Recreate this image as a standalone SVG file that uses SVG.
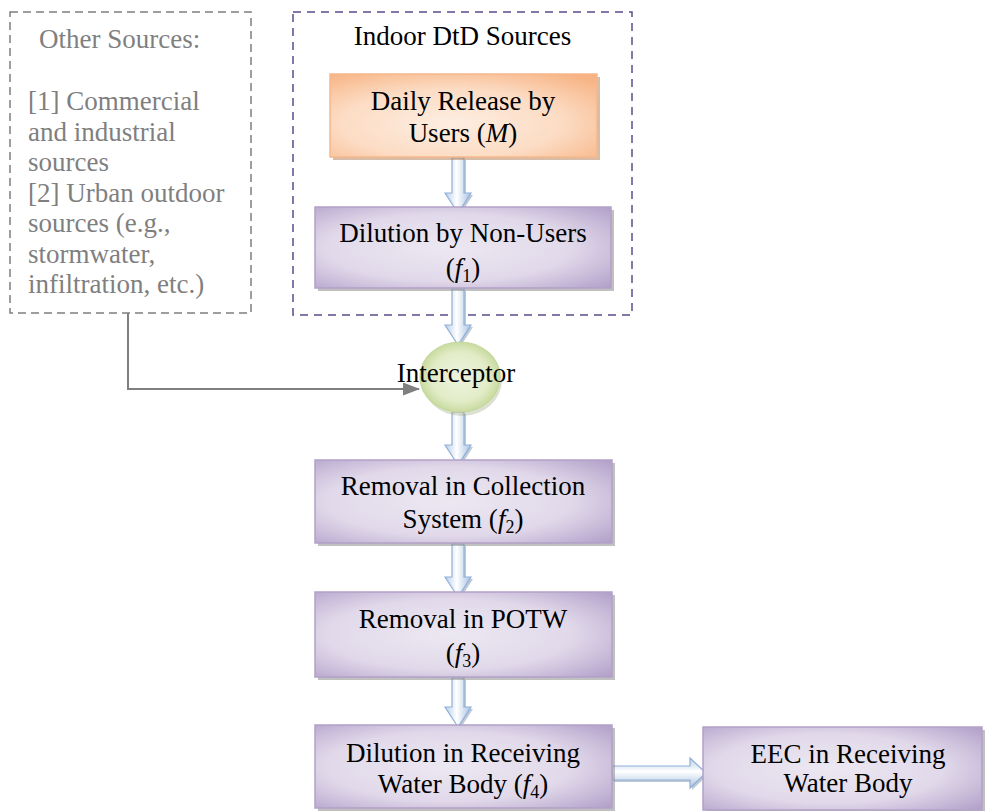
<svg xmlns="http://www.w3.org/2000/svg" width="988" height="811" viewBox="0 0 988 811">
<style>
.t{font-family:"Liberation Serif","Times New Roman",serif;font-size:27px;fill:#000;text-anchor:middle}
.g{font-family:"Liberation Serif","Times New Roman",serif;font-size:27px;fill:#7f7f7f}
.i{font-style:italic}
.sub{font-size:18px}
.pbox{fill:url(#pg);stroke:#b2a1c7;stroke-width:1.5}
.obox{fill:url(#og);stroke:#f6b88c;stroke-width:1.5}
.sh{fill:#8c8c8c;opacity:0.55}
.osh{fill:#b07a50;opacity:0.5}
.arr{fill:url(#ag);stroke:#8fb0d8;stroke-width:1.2}
.harr{fill:url(#agh);stroke:#8fb0d8;stroke-width:1.2}
.ash{fill:#6f86a3;opacity:0.45}
</style>
<defs>
<radialGradient id="pg" cx="0.45" cy="0.5" r="0.75">
<stop offset="0" stop-color="#ece8f2"/>
<stop offset="0.55" stop-color="#e1d9ea"/>
<stop offset="1" stop-color="#b09dc8"/>
</radialGradient>
<radialGradient id="og" cx="0.45" cy="0.6" r="0.75">
<stop offset="0" stop-color="#fdeee2"/>
<stop offset="0.55" stop-color="#fcdcc4"/>
<stop offset="1" stop-color="#f7b383"/>
</radialGradient>
<radialGradient id="eg" cx="0.5" cy="0.5" r="0.5">
<stop offset="0" stop-color="#eef3de"/>
<stop offset="0.7" stop-color="#e2ecc8"/>
<stop offset="1" stop-color="#c9dba0"/>
</radialGradient>
<linearGradient id="ag" x1="0" y1="0" x2="1" y2="0">
<stop offset="0" stop-color="#b7cde8"/>
<stop offset="0.45" stop-color="#ffffff"/>
<stop offset="1" stop-color="#a8c2e2"/>
</linearGradient>
<linearGradient id="agh" x1="0" y1="0" x2="0" y2="1">
<stop offset="0" stop-color="#b7cde8"/>
<stop offset="0.45" stop-color="#ffffff"/>
<stop offset="1" stop-color="#a8c2e2"/>
</linearGradient>
<marker id="gh" viewBox="0 0 17 13" refX="16" refY="6.5" markerWidth="17" markerHeight="13" markerUnits="userSpaceOnUse" orient="auto">
<path d="M0,0 L17,6.5 L0,13 Z" fill="#7f7f7f"/>
</marker>
</defs>

<g id="other-sources">
<rect x="10" y="12" width="241" height="301" fill="none" stroke="#7f7f7f" stroke-width="1.5" stroke-dasharray="8,5"/>
<text class="g" x="39" y="48">Other Sources:</text>
<text class="g" x="28" y="110">[1] Commercial</text>
<text class="g" x="28" y="140.5">and industrial</text>
<text class="g" x="28" y="171">sources</text>
<text class="g" x="28" y="201.5">[2] Urban outdoor</text>
<text class="g" x="28" y="232">sources (e.g.,</text>
<text class="g" x="28" y="262.5">stormwater,</text>
<text class="g" x="28" y="293">infiltration, etc.)</text>
</g>

<g id="indoor-sources">
<rect x="293" y="12" width="339" height="303" fill="none" stroke="#5e4b8b" stroke-width="1.5" stroke-dasharray="8,6"/>
<text class="t" x="462.5" y="45">Indoor DtD Sources</text>
</g>

<g id="connectors">
<polyline points="128,313 128,389 419,389" fill="none" stroke="#7f7f7f" stroke-width="2" marker-end="url(#gh)"/>
<g id="arrow-1">
<path class="ash" transform="translate(2,2)" d="M452,158 H464 V193 H471 L458,213 L445,193 H452 Z"/>
<path class="arr" d="M452,158 H464 V193 H471 L458,213 L445,193 H452 Z"/>
</g>
<g id="arrow-2">
<path class="ash" transform="translate(2,2)" d="M452,289 H464 V325 H471 L458,345 L445,325 H452 Z"/>
<path class="arr" d="M452,289 H464 V325 H471 L458,345 L445,325 H452 Z"/>
</g>
<g id="arrow-3">
<path class="ash" transform="translate(2,2)" d="M452,412 H464 V445 H471 L458,465 L445,445 H452 Z"/>
<path class="arr" d="M452,412 H464 V445 H471 L458,465 L445,445 H452 Z"/>
</g>
<g id="arrow-4">
<path class="ash" transform="translate(2,2)" d="M452,544 H464 V577 H471 L458,597 L445,577 H452 Z"/>
<path class="arr" d="M452,544 H464 V577 H471 L458,597 L445,577 H452 Z"/>
</g>
<g id="arrow-5">
<path class="ash" transform="translate(2,2)" d="M452,678 H464 V707 H471 L458,727 L445,707 H452 Z"/>
<path class="arr" d="M452,678 H464 V707 H471 L458,727 L445,707 H452 Z"/>
</g>
<g id="arrow-6">
<path class="ash" transform="translate(2,2)" d="M612,766 V780 H690 V788 L706,773 L690,758 V766 Z"/>
<path class="harr" d="M612,766 V780 H690 V788 L706,773 L690,758 V766 Z"/>
</g>
</g>

<g id="daily-release">
<rect class="osh" x="333" y="77" width="267" height="83"/>
<rect class="obox" x="330" y="74" width="267" height="83"/>
<text class="t" x="463" y="110">Daily Release by</text>
<text class="t" x="463" y="142">Users (<tspan class="i">M</tspan>)</text>
</g>

<g id="dilution-non-users">
<rect class="sh" x="318" y="210" width="296" height="81"/>
<rect class="pbox" x="315" y="207" width="296" height="81"/>
<text class="t" x="463" y="242">Dilution by Non-Users</text>
<text class="t" x="463" y="277">(<tspan class="i">f</tspan><tspan class="sub" dy="5">1</tspan><tspan dy="-5">)</tspan></text>
</g>

<g id="interceptor">
<ellipse cx="462" cy="380" rx="40" ry="36" fill="#9aa67a" opacity="0.35"/>
<ellipse cx="460" cy="377" rx="40" ry="35" fill="url(#eg)" stroke="#c5d89b" stroke-width="1.2"/>
<text class="t" x="456" y="382">Interceptor</text>
</g>

<g id="removal-collection">
<rect class="sh" x="318" y="463" width="297" height="83"/>
<rect class="pbox" x="315" y="460" width="297" height="83"/>
<text class="t" x="463" y="495">Removal in Collection</text>
<text class="t" x="463" y="528">System (<tspan class="i">f</tspan><tspan class="sub" dy="5">2</tspan><tspan dy="-5">)</tspan></text>
</g>

<g id="removal-potw">
<rect class="sh" x="318" y="595" width="297" height="85"/>
<rect class="pbox" x="315" y="592" width="297" height="85"/>
<text class="t" x="463" y="628">Removal in POTW</text>
<text class="t" x="463" y="662">(<tspan class="i">f</tspan><tspan class="sub" dy="5">3</tspan><tspan dy="-5">)</tspan></text>
</g>

<g id="dilution-receiving">
<rect class="sh" x="318" y="728" width="297" height="83"/>
<rect class="pbox" x="315" y="725" width="297" height="83"/>
<text class="t" x="463" y="762">Dilution in Receiving</text>
<text class="t" x="463" y="793">Water Body (<tspan class="i">f</tspan><tspan class="sub" dy="5">4</tspan><tspan dy="-5">)</tspan></text>
</g>

<g id="eec">
<rect class="sh" x="706" y="730" width="279" height="83"/>
<rect class="pbox" x="703" y="727" width="279" height="83"/>
<text class="t" x="848" y="763">EEC in Receiving</text>
<text class="t" x="848" y="792">Water Body</text>
</g>
</svg>
